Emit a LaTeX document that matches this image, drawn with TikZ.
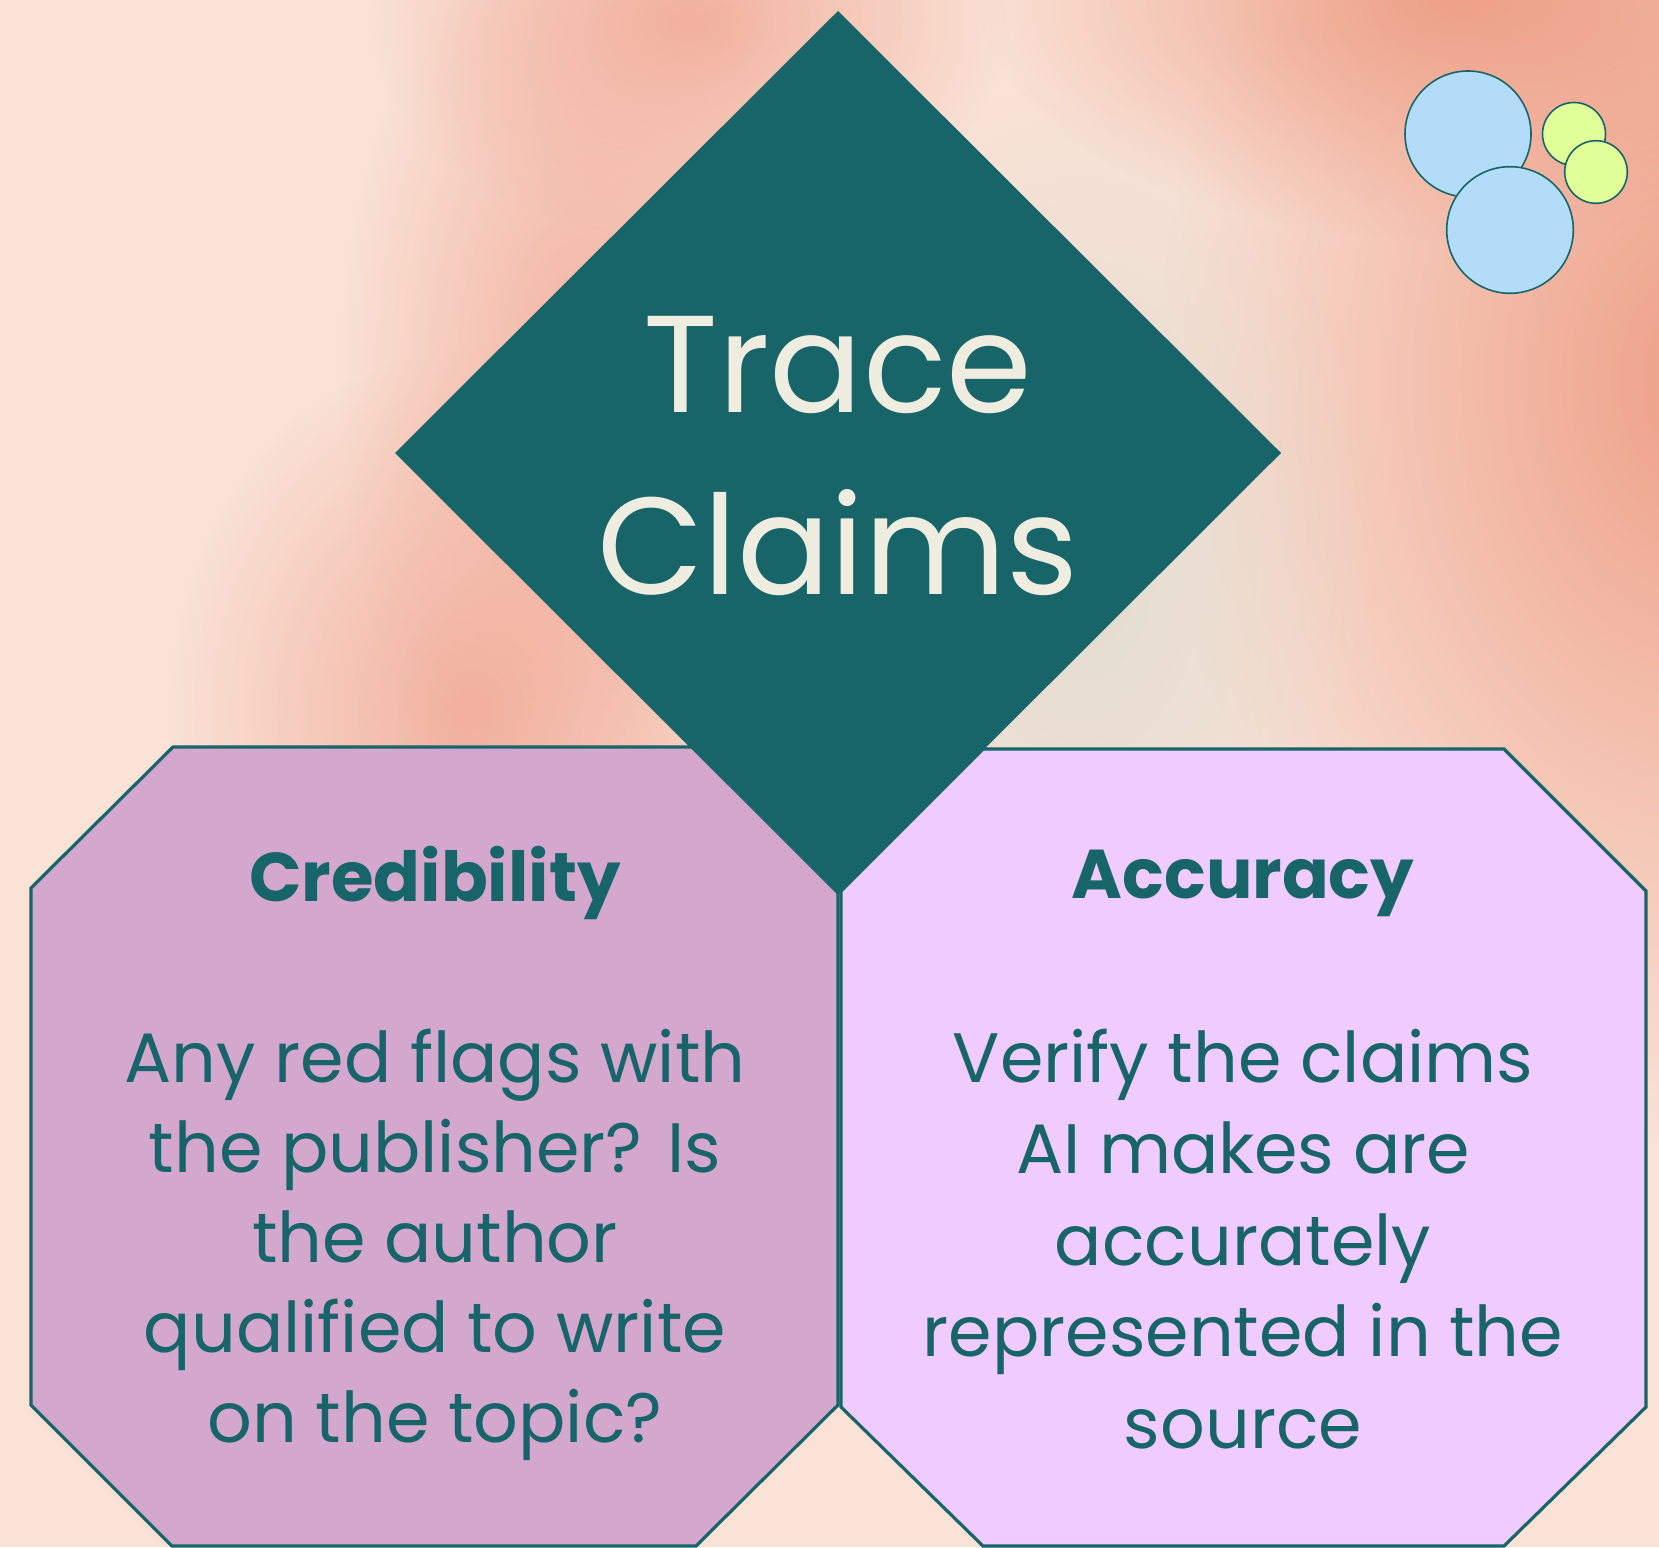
\documentclass[tikz,border=0pt]{standalone}
\usepackage{fontspec}
\setmainfont{Poppins}
\usetikzlibrary{fadings}
\definecolor{tealdark}{RGB}{23,101,105}
\definecolor{peach}{RGB}{250,226,214}
\definecolor{salmon}{RGB}{242,176,158}
\definecolor{salmondeep}{RGB}{238,160,136}
\definecolor{greyish}{RGB}{226,221,209}
\definecolor{mauve}{RGB}{212,167,206}
\definecolor{lilac}{RGB}{240,203,254}
\definecolor{skyblue}{RGB}{179,220,248}
\definecolor{lime}{RGB}{225,255,153}
\definecolor{cream}{RGB}{239,237,224}
\tikzfading[name=blobfade, inner color=transparent!0, outer color=transparent!100]
\tikzset{
  blob/.style={fill=#1, path fading=blobfade},
  octbox/.style={draw=tealdark, line width=3.2pt, line join=miter},
  bubble/.style={draw=tealdark, line width=1.6pt},
  titletext/.style={text=cream, inner sep=0pt, anchor=base, align=center,
    font=\fontsize{138}{182}\selectfont},
  headtext/.style={text=tealdark, inner sep=0pt, anchor=base,
    font=\bfseries\fontsize{69}{88}\selectfont},
  bodytext/.style={text=tealdark, inner sep=0pt, anchor=base, align=center},
}
\begin{document}
\begin{tikzpicture}[x=1pt,y=-1pt]
\useasboundingbox (0,0) rectangle (1659,1547);
% background
\fill[peach] (0,0) rectangle (1659,1547);
\fill[blob=salmon] (470,710) ellipse (300 and 360);
\fill[blob=salmon] (590,380) ellipse (250 and 480);
\fill[blob=salmon] (690,20) ellipse (320 and 220);
\fill[blob=salmondeep] (1700,380) ellipse (540 and 760);
\fill[blob=salmondeep] (1460,0) ellipse (480 and 240);
\fill[blob=greyish] (1080,560) ellipse (300 and 480);
% octagons
\draw[octbox, fill=mauve] (173,747) -- (695,747) -- (838,889) -- (838,1405) -- (696,1546) -- (172,1546) -- (31,1405) -- (31,888) -- cycle;
\draw[octbox, fill=lilac] (983,749) -- (1504,749) -- (1646,891) -- (1646,1407) -- (1504,1546) -- (983,1546) -- (841,1407) -- (841,891) -- cycle;
% diamond
\fill[tealdark] (838,11) -- (1281,453) -- (838,895) -- (395,453) -- cycle;
% bubbles
\draw[bubble, fill=skyblue] (1468,134) circle (63);
\draw[bubble, fill=skyblue] (1510,230) circle (63.3);
\draw[bubble, fill=lime] (1574,134) circle (31.5);
\draw[bubble, fill=lime] (1596,172) circle (31.3);
% texts (base anchor = baseline of the last line)
\node[titletext] (title) at (838,594) {Trace\\Claims};
\node[headtext] (credhead) at (435,901) {Credibility};
\node[headtext] (acchead) at (1243,898) {Accuracy};
\node[bodytext, font=\fontsize{70}{90}\selectfont] (credbody) at (435,1442)
  {Any red flags with\\the publisher? Is\\the author\\qualified to write\\on the topic?};
\node[bodytext, font=\fontsize{70}{91.5}\selectfont] (accbody) at (1243,1448)
  {Verify the claims\\AI makes are\\accurately\\represented in the\\source};
\end{tikzpicture}
\end{document}
